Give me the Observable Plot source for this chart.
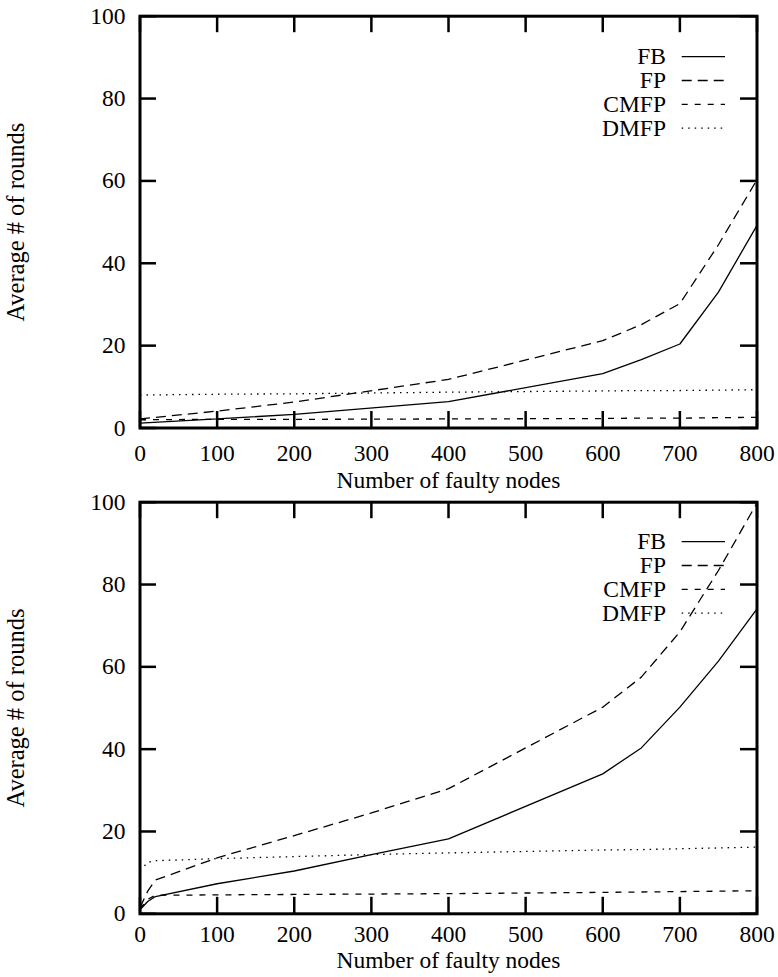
<!DOCTYPE html>
<html>
<head>
<meta charset="utf-8">
<script src="https://cdn.jsdelivr.net/npm/d3@7"></script>
<script src="https://cdn.jsdelivr.net/npm/@observablehq/plot@0.6"></script>
<style>
  html, body { margin: 0; padding: 0; background: #ffffff; }
  #chart { width: 778px; }
  #chart svg { display: block; }
</style>
</head>
<body>
<div id="chart"></div>
<script>
// ---------- data ----------
const seriesNames = ["FB", "FP", "CMFP", "DMFP"];
const xTicks = [0, 100, 200, 300, 400, 500, 600, 700, 800];
const yTicks = [0, 20, 40, 60, 80, 100];
const xLabel = "Number of faulty nodes";
const yLabel = "Average # of rounds";

// top panel
const topX    = [0, 100, 200, 400, 600, 650, 700, 750, 800];
const topFB   = [1.2, 2.2, 3.3, 6.4, 13.2, 16.6, 20.4, 33.0, 49.2];
const topFP   = [2.2, 4.1, 6.3, 11.8, 21.2, 25.1, 30.2, 44.5, 60.3];
const topCMFP = [2.0, 2.1, 2.1, 2.2, 2.3, 2.4, 2.4, 2.5, 2.6];
const topDMFP = [8.0, 8.2, 8.3, 8.7, 9.0, 9.1, 9.1, 9.2, 9.3];

// bottom panel
const botX    = [0, 10, 20, 100, 200, 300, 400, 600, 650, 700, 750, 800];
const botFB   = [1.0, 3.0, 4.2, 7.3, 10.4, 14.4, 18.2, 34.0, 40.3, 50.2, 61.4, 74.1];
const botFP   = [1.5, 5.5, 8.2, 13.6, 19.0, 24.5, 30.4, 50.2, 57.5, 68.5, 83.4, 99.8];
const botCMFP = [1.2, 3.5, 4.5, 4.6, 4.7, 4.8, 4.9, 5.2, 5.3, 5.4, 5.5, 5.6];
const botDMFP = [10.5, 12.5, 12.9, 13.4, 13.9, 14.4, 14.8, 15.5, 15.6, 15.8, 16.0, 16.2];

// ---------- styles ----------
const FONT = "'Liberation Serif', 'DejaVu Serif', serif";
const FS = 23.5;
const seriesDash = [null, "10,6", "6,7", "1.5,5"];
const W = 778;
const TICK = 16.5;

function rows(xs, ys) { return xs.map((x, i) => ({x, y: ys[i]})); }

function makeChart(xs, ysList, L) {
  const innerW = W - L.marginLeft - L.marginRight;
  const innerH = L.height - L.marginTop - L.marginBottom;

  const legend = (index, scales, values, dim) => {
    const d = dim || {width: W, marginRight: L.marginRight, marginTop: L.marginTop};
    const right = d.width - d.marginRight;
    const top = d.marginTop;
    const g = d3.create("svg:g")
      .attr("font-family", FONT)
      .attr("font-size", FS)
      .attr("fill", "black");
    seriesNames.forEach((name, i) => {
      const cy = top + L.legendTop + i * L.legendStep;
      g.append("text")
        .attr("x", right - 90.5).attr("y", cy)
        .attr("dy", "0.33em")
        .attr("text-anchor", "end")
        .text(name);
      const ln = g.append("line")
        .attr("x1", right - 74.8).attr("x2", right - 31.5)
        .attr("y1", cy).attr("y2", cy)
        .attr("stroke", "black").attr("stroke-width", 1.3)
        .attr("stroke-linecap", "butt");
      if (seriesDash[i]) ln.attr("stroke-dasharray", seriesDash[i]);
    });
    return g.node();
  };

  const lineMarks = ysList.map((ys, i) => Plot.line(rows(xs, ys), {
    x: "x", y: "y",
    stroke: "black",
    strokeWidth: 1.3,
    strokeLinecap: "butt",
    strokeLinejoin: "miter",
    strokeDasharray: seriesDash[i] || undefined
  }));

  return Plot.plot({
    width: W,
    height: L.height,
    marginTop: L.marginTop,
    marginBottom: L.marginBottom,
    marginLeft: L.marginLeft,
    marginRight: L.marginRight,
    style: {fontFamily: FONT, fontSize: FS + "px", background: "white", color: "black", overflow: "visible"},
    x: {domain: [0, 800], ticks: xTicks, tickSize: 0, tickPadding: L.xTickPad, label: null},
    y: {domain: [0, 100], ticks: yTicks, tickSize: 0, tickPadding: 14.5, label: null},
    marks: [
      ...lineMarks,
      // inward ticks on all four sides
      Plot.ruleX(xTicks, {x: d => d, insetTop: innerH - TICK, stroke: "black", strokeWidth: 2.5}),
      Plot.ruleX(xTicks, {x: d => d, insetBottom: innerH - TICK, stroke: "black", strokeWidth: 2.5}),
      Plot.ruleY(yTicks, {y: d => d, insetRight: innerW - TICK, stroke: "black", strokeWidth: 2.5}),
      Plot.ruleY(yTicks, {y: d => d, insetLeft: innerW - TICK, stroke: "black", strokeWidth: 2.5}),
      Plot.frame({stroke: "black", strokeWidth: 3}),
      Plot.text([xLabel], {text: d => d, frameAnchor: "bottom", lineAnchor: "bottom", dy: L.xLabelBase, fontSize: FS, fill: "black"}),
      Plot.text([yLabel], {text: d => d, frameAnchor: "left", rotate: -90, lineAnchor: "bottom", textAnchor: "middle", dx: -116, fontSize: 24.5, fill: "black"}),
      legend
    ]
  });
}

const top1 = makeChart(topX, [topFB, topFP, topCMFP, topDMFP], {
  height: 488, marginTop: 15.7, marginBottom: 60.5, marginLeft: 139.5, marginRight: 21.5,
  xTickPad: 16.5, xLabelBase: 59.5, legendTop: 41, legendStep: 23.8
});
const bot1 = makeChart(botX, [botFB, botFP, botCMFP, botDMFP], {
  height: 489, marginTop: 13.7, marginBottom: 63.7, marginLeft: 139.5, marginRight: 21.5,
  xTickPad: 12, xLabelBase: 54.5, legendTop: 40, legendStep: 23.8
});
document.getElementById("chart").append(top1, bot1);
</script>
</body>
</html>
